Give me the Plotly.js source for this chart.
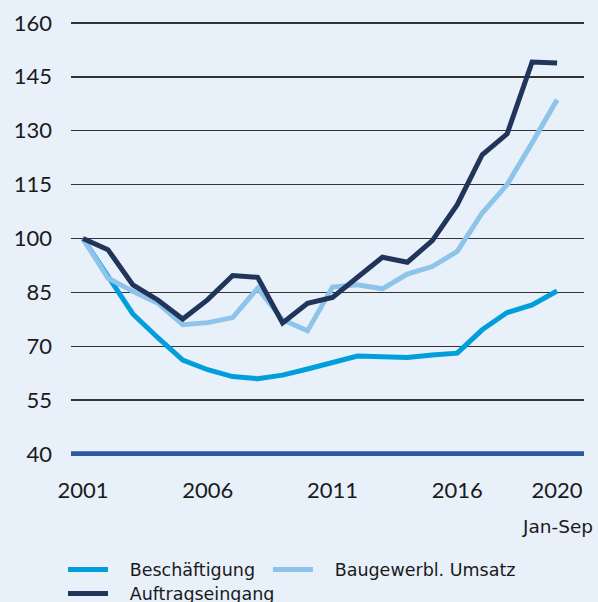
<!DOCTYPE html>
<html>
<head>
<meta charset="utf-8">
<script src="https://cdn.plot.ly/plotly-3.0.1.min.js"></script>
<style>
html,body{margin:0;padding:0;background:#E8F0FA;}
#chart{width:598px;height:602px;}
</style>
</head>
<body>
<div id="chart"></div>
<script>
const years = [2001,2002,2003,2004,2005,2006,2007,2008,2009,2010,2011,2012,2013,2014,2015,2016,2017,2018,2019,2020];
const beschaeftigung = [100,89.3,79,72.4,66.2,63.5,61.6,61,62,63.7,65.6,67.3,67.1,66.9,67.6,68.1,74.6,79.4,81.5,85.4];
const umsatz = [100,89,85.3,82,76,76.6,78,86.2,77.4,74.3,86.5,87.1,86,90.1,92.2,96.4,107.1,115,126.6,138.6];
const auftrag = [100,96.9,87.1,82.9,77.6,83,89.7,89.2,76.5,82,83.6,89,94.8,93.4,99.4,109.4,123.3,129.1,149.1,148.8];
const seriesNames = ['Beschäftigung', 'Baugewerbl. Umsatz', 'Auftragseingang'];
const xTicks = [2001,2006,2011,2016,2020];
const xTickText = ['2001','2006','2011','2016','2020'];
const yTicks = [40,55,70,85,100,115,130,145,160];
const xNote = 'Jan-Sep';

const FONT = 'Lato, "Open Sans", sans-serif';
const LEGFONT = '"DejaVu Sans", "Open Sans", sans-serif';
const pad = '\u00A0\u00A0\u00A0';
const traces = [
  {x: years, y: beschaeftigung, name: pad + seriesNames[0], type: 'scatter', mode: 'lines',
   line: {color: '#009FDB', width: 5}, legend: 'legend'},
  {x: years, y: umsatz, name: pad + seriesNames[1], type: 'scatter', mode: 'lines',
   line: {color: '#8FC4EA', width: 5}, legend: 'legend2'},
  {x: years, y: auftrag, name: pad + seriesNames[2], type: 'scatter', mode: 'lines',
   line: {color: '#213459', width: 5}, legend: 'legend3'}
];
const legBase = {
  orientation: 'h', xanchor: 'left', yanchor: 'top',
  font: {size: 17.5, family: LEGFONT, color: '#1a1a1a'},
  itemwidth: 40, bgcolor: 'rgba(0,0,0,0)'
};
const layout = {
  width: 598, height: 602,
  paper_bgcolor: '#E8F0FA', plot_bgcolor: '#E8F0FA',
  margin: {l: 71, r: 14, t: 21, b: 146, autoexpand: false},
  font: {family: FONT, color: '#1a1a1a'},
  xaxis: {
    range: [2000.52, 2021.08], tickvals: xTicks, ticktext: xTickText,
    showgrid: false, zeroline: false, showline: false, ticks: '',
    tickfont: {size: 22, family: FONT, color: '#1a1a1a'}, ticklabelstandoff: 19, fixedrange: true
  },
  yaxis: {
    range: [39.5, 160.5], tickvals: yTicks, showgrid: true, gridcolor: '#333333', gridwidth: 1.6,
    zeroline: false, showline: false, ticks: '',
    tickfont: {size: 22, family: FONT, color: '#1a1a1a'}, ticklabelstandoff: 18, fixedrange: true
  },
  shapes: [
    {type: 'line', xref: 'paper', yref: 'y', x0: 0, x1: 1, y0: 40, y1: 40,
     line: {color: '#2D5A9E', width: 6}, layer: 'above'}
  ],
  annotations: [
    {text: xNote, xref: 'x', yref: 'paper', x: 2020, y: -0.162, showarrow: false,
     xanchor: 'center', yanchor: 'middle', font: {size: 18.5, family: LEGFONT, color: '#1a1a1a'}}
  ],
  showlegend: true,
  legend: Object.assign({}, legBase, {x: -0.0156, y: -0.22}),
  legend2: Object.assign({}, legBase, {x: 0.384, y: -0.22}),
  legend3: Object.assign({}, legBase, {x: -0.0156, y: -0.275})
};
Plotly.newPlot('chart', traces, layout, {displayModeBar: false, staticPlot: true});
</script>
</body>
</html>
